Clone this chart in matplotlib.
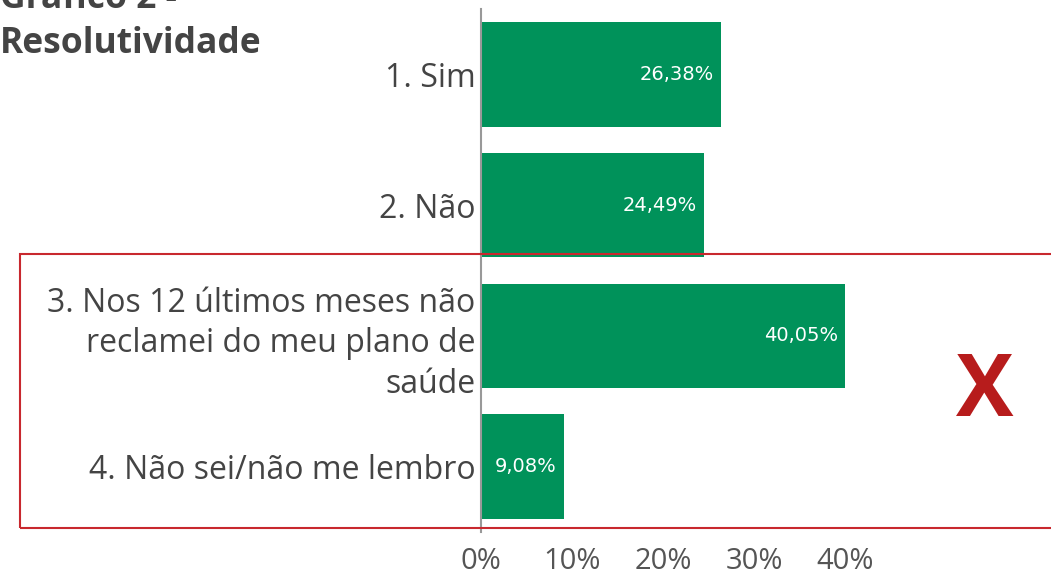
import matplotlib
matplotlib.use("Agg")
import matplotlib.pyplot as plt
from matplotlib.patches import Rectangle

categories = ["1. Sim", "2. Não",
              "3. Nos 12 últimos meses não\nreclamei do meu plano de\nsaúde",
              "4. Não sei/não me lembro"]
values = [26.38, 24.49, 40.05, 9.08]
value_labels = ["26,38%", "24,49%", "40,05%", "9,08%"]
ticks = [0, 10, 20, 30, 40]
tick_labels = ["0%", "10%", "20%", "30%", "40%"]

plt.rcParams['font.family'] = ['Open Sans', 'DejaVu Sans']

W, H = 1051, 578
fig = plt.figure(figsize=(W/100, H/100), dpi=100)
ax_left, ax_right = 481, 1000
ax_top, ax_bottom = 9, 532
ax = fig.add_axes([ax_left/W, 1-ax_bottom/H, (ax_right-ax_left)/W, (ax_bottom-ax_top)/H])

green = "#00925a"
ypos = list(range(len(categories)))
ax.barh(ypos, values, height=0.8, color=green)
ax.set_ylim(len(categories)-0.5, -0.5)
ax.set_xlim(0, (ax_right-ax_left)/9.1)

for y, v, lab in zip(ypos, values, value_labels):
    ax.text(v-0.8, y, lab, ha='right', va='center', color='white', fontsize=14,
            family=['DejaVu Sans'])

ax.set_yticks(ypos)
ax.set_yticklabels(categories, fontsize=23, color='#444444', linespacing=1.3)
ax.set_xticks(ticks)
ax.set_xticklabels(tick_labels, fontsize=21, color='#555555')
ax.tick_params(axis='y', length=0, pad=4)
ax.tick_params(axis='x', length=0, pad=11)
for s in ['top', 'right', 'bottom']:
    ax.spines[s].set_visible(False)
ax.spines['left'].set_color('#999999')
ax.spines['left'].set_linewidth(1.5)

# red highlight box
rect = Rectangle((20/W, 1-528/H), (1060-20)/W, (528-254)/H, transform=fig.transFigure,
                 fill=False, edgecolor='#c8282e', linewidth=1.5, clip_on=False)
fig.patches.append(rect)
fig.text(985/W, 1-393/H, "X", ha='center', va='center', color='#b71c1c',
         fontsize=62, fontweight='bold', family=['Open Sans', 'DejaVu Sans'])

fig.text(0, 1-53/H, "Gráfico 2 -\nResolutividade", ha='left', va='baseline',
         fontsize=25.5, fontweight='bold', color='#444444', linespacing=1.35)

fig.savefig("out.png", dpi=100)
